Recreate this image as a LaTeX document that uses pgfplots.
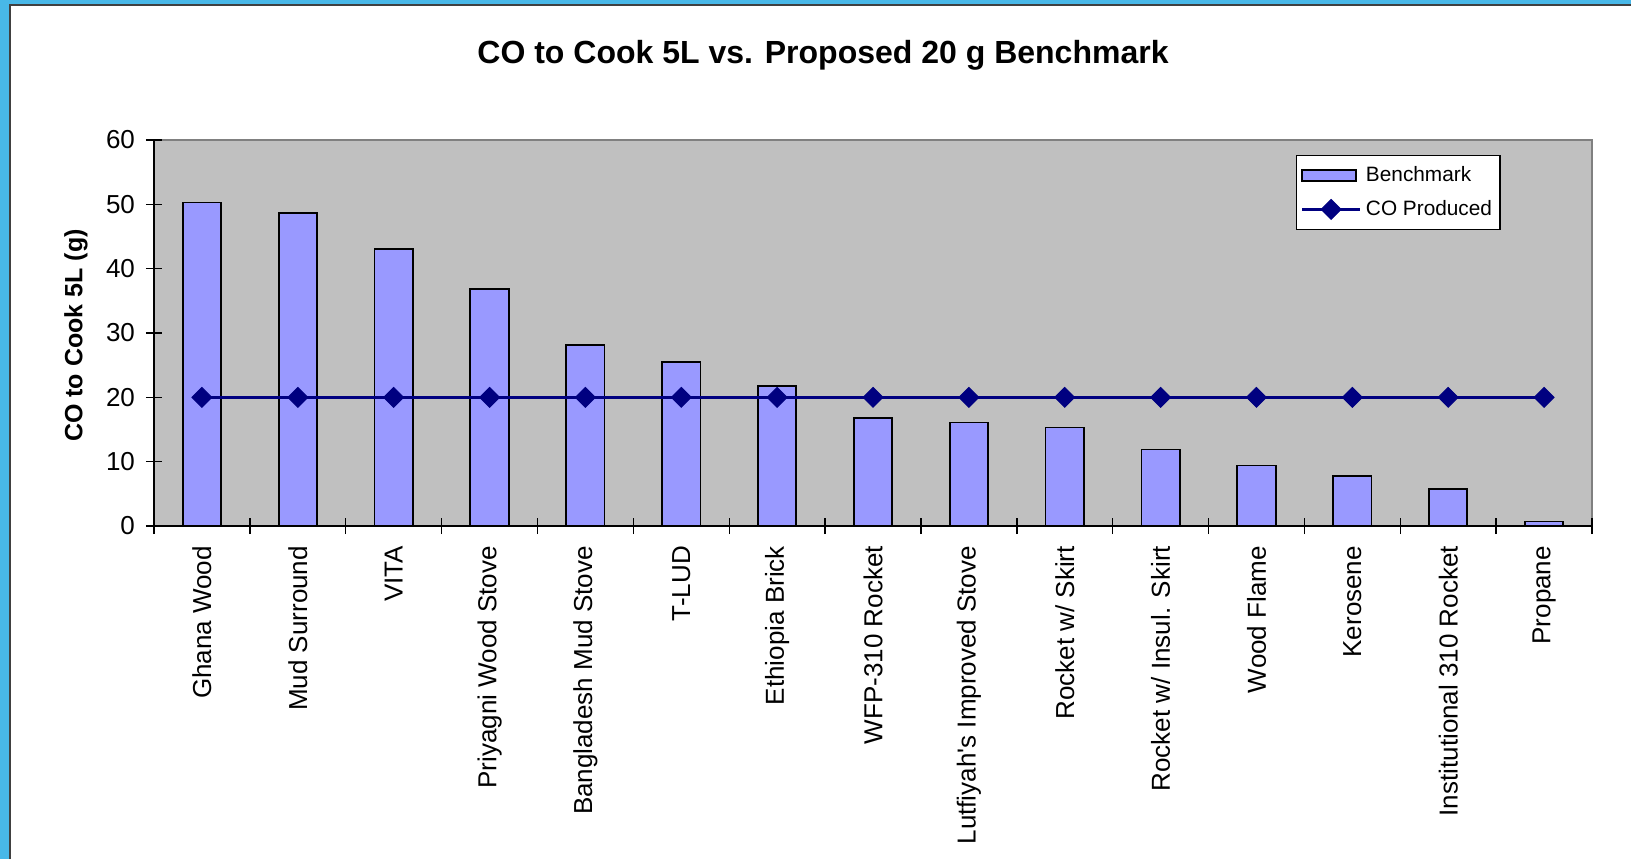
\documentclass[border=0pt]{standalone}
\usepackage{pgfplots}
\pgfplotsset{compat=1.18}
\usepackage{fontspec}
\setmainfont{Liberation Sans}
\definecolor{barfill}{RGB}{153,153,255}
\definecolor{plotbg}{RGB}{192,192,192}
\definecolor{navyline}{RGB}{0,0,128}
\definecolor{frameblue}{RGB}{72,184,232}
\definecolor{framedark}{RGB}{64,64,64}
\pgfplotsset{
  barlegend/.style={legend image code/.code={\draw[fill=barfill, draw=black, line width=0.9pt] (0pt,-2.8pt) rectangle (27pt,2.8pt);}},
  linelegend/.style={legend image code/.code={\draw[##1, mark repeat=2, mark phase=2] plot coordinates {(0pt,0pt) (14.5pt,0pt) (29pt,0pt)};}},
}
\begin{document}
\begin{tikzpicture}
\useasboundingbox (0,0) rectangle (815.5pt,-429.5pt);
\fill[frameblue] (0,0) rectangle (815.5pt,-429.5pt);
\fill[white] (5pt,-2.6pt) rectangle (815.5pt,-429.5pt);
\draw[framedark, line width=1pt] (4.9pt,-429.5pt) -- (4.9pt,-2.5pt) -- (815.5pt,-2.5pt);
\node[anchor=base, font=\bfseries\fontsize{16}{19}\selectfont] at (411.5pt,-31.5pt) {CO to Cook 5L vs. Proposed 20 g Benchmark};
\begin{axis}[
  at={(77pt,-263pt)}, anchor=south west,
  scale only axis, width=719pt, height=193pt,
  xmin=-0.5, xmax=14.5, ymin=0, ymax=60,
  ytick={0,10,...,60},
  xtick={0,...,14},
  xticklabels={Ghana Wood, Mud Surround, VITA, Priyagni Wood Stove, Bangladesh Mud Stove, T-LUD, Ethiopia Brick, WFP-310 Rocket, Lutfiyah\textquotesingle s Improved Stove, Rocket w/ Skirt, Rocket w/ Insul. Skirt, Wood Flame, Kerosene, Institutional 310 Rocket, Propane},
  minor xtick={-0.5,0.5,...,14.5},
  major x tick style={draw=none},
  tick align=center,
  major tick length=8pt, minor tick length=8pt,
  tick style={black, line width=0.7pt},
  xtick pos=bottom, ytick pos=left,
  axis x line*=bottom, axis y line*=left,
  axis line style={-, black, line width=0.8pt},
  axis background/.style={fill=plotbg, draw=gray, line width=1.3pt},
  tick label style={font=\fontsize{13}{15}\selectfont},
  /pgf/number format/assume math mode=true,
  xticklabel shift=2.5pt, yticklabel shift=2pt,
  xticklabel style={rotate=90, anchor=east},
  ylabel={CO to Cook 5L (g)},
  ylabel style={at={(axis description cs:-0.0542,0.4935)}, anchor=center, rotate=0, font=\bfseries\fontsize{12.5}{15}\selectfont},
  legend style={at={(rel axis cs:0.794,0.962)}, anchor=north west, draw=black, fill=white, line width=0.6pt,
    font=\fontsize{10.4}{12}\selectfont, row sep=4pt, inner xsep=2pt, inner ysep=3.5pt},
  legend cell align=left,
]
\addplot[ybar, bar width=0.4, fill=barfill, draw=black, line width=0.9pt, barlegend]
  coordinates {(0,50.3) (1,48.6) (2,43.0) (3,36.8) (4,28.1) (5,25.5) (6,21.8) (7,16.8) (8,16.1) (9,15.3) (10,11.9) (11,9.4) (12,7.8) (13,5.7) (14,0.7)};
\addlegendentry{Benchmark}
\addplot[navyline, line width=1.8pt, mark=square*, mark size=3.5pt, mark options={rotate=45, fill=navyline, draw=navyline, line width=0.5pt}, linelegend]
  coordinates {(0,20) (1,20) (2,20) (3,20) (4,20) (5,20) (6,20) (7,20) (8,20) (9,20) (10,20) (11,20) (12,20) (13,20) (14,20)};
\addlegendentry{CO Produced}
\end{axis}
\end{tikzpicture}
\end{document}
